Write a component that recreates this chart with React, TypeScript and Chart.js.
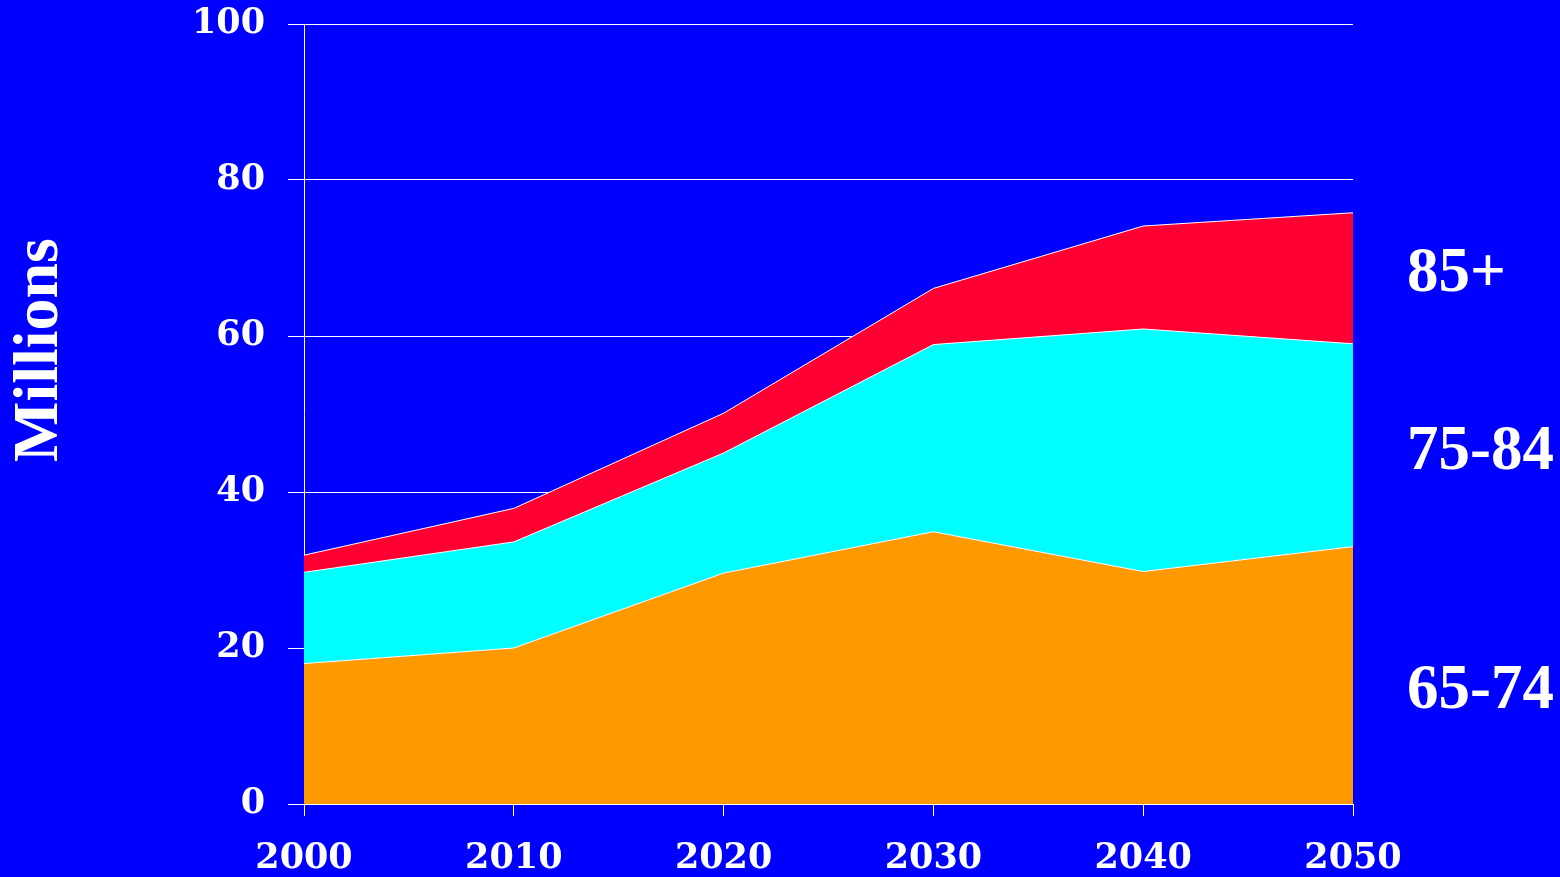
import React, { useEffect, useRef } from "react";
import { Chart, registerables } from "chart.js";

Chart.register(...registerables);

const years = ["2000", "2010", "2020", "2030", "2040", "2050"];
const age65to74 = [18, 20, 29.6, 34.9, 29.8, 33];
const age75to84 = [11.7, 13.6, 15.4, 24, 31.1, 26];
const age85plus = [2.2, 4.3, 5.1, 7.2, 13.2, 16.8];
const yTicks = [0, 20, 40, 60, 80, 100];
const sideLabels = ["85+", "75-84", "65-74"];
const axisTitle = "Millions";

const BLUE = "#0000FF";
const WHITE = "#FFFFFF";
const tickFont = { family: "'DejaVu Serif', serif", size: 35, weight: "bold" as const };

const textPlugin = {
  id: "sideText",
  afterDraw(chart: any) {
    const ctx = chart.ctx;
    ctx.save();
    ctx.fillStyle = WHITE;
    ctx.font = "bold 63px 'Liberation Serif', serif";
    ctx.textAlign = "left";
    ctx.textBaseline = "middle";
    const ys = [275, 453, 692];
    sideLabels.forEach((t, i) => ctx.fillText(t, 1407, ys[i]));
    ctx.translate(40, 350);
    ctx.rotate(-Math.PI / 2);
    ctx.textAlign = "center";
    ctx.font = "bold 64px 'Liberation Serif', serif";
    ctx.fillText(axisTitle, 0, 0);
    ctx.restore();
  },
};

export default function App() {
  const ref = useRef<HTMLCanvasElement>(null);
  useEffect(() => {
    if (!ref.current) return;
    const chart = new Chart(ref.current, {
      type: "line",
      data: {
        labels: years,
        datasets: [
          {
            label: "65-74",
            data: age65to74,
            backgroundColor: "#FF9900",
            borderColor: WHITE,
            borderWidth: 1,
            pointRadius: 0,
            fill: "origin",
            tension: 0,
          },
          {
            label: "75-84",
            data: age75to84,
            backgroundColor: "#00FFFF",
            borderColor: WHITE,
            borderWidth: 1,
            pointRadius: 0,
            fill: "-1",
            tension: 0,
          },
          {
            label: "85+",
            data: age85plus,
            backgroundColor: "#FF0033",
            borderColor: WHITE,
            borderWidth: 1,
            pointRadius: 0,
            fill: "-1",
            tension: 0,
          },
        ],
      },
      options: {
        responsive: false,
        animation: false,
        layout: { padding: { top: 24, right: 207, left: 0, bottom: 0 } },
        plugins: { legend: { display: false }, tooltip: { enabled: false } },
        scales: {
          x: {
            offset: false,
            grid: {
              drawOnChartArea: false,
              drawTicks: true,
              tickLength: 12,
              color: WHITE,
              lineWidth: 1,
            },
            border: { color: WHITE, width: 1 },
            ticks: { color: WHITE, font: tickFont, padding: 22, maxRotation: 0, autoSkip: false },
            afterFit(scale: any) {
              scale.height = 73;
              scale.paddingLeft = 0;
              scale.paddingRight = 0;
            },
          },
          y: {
            stacked: true,
            min: 0,
            max: 100,
            afterBuildTicks(scale: any) {
              scale.ticks = yTicks.map((v) => ({ value: v }));
            },
            grid: {
              color: WHITE,
              lineWidth: 1,
              tickLength: 16,
              drawTicks: true,
            },
            border: { color: WHITE, width: 1 },
            ticks: { color: WHITE, font: tickFont, padding: 23 },
            afterFit(scale: any) {
              scale.width = 304;
              scale.paddingTop = 0;
              scale.paddingBottom = 0;
            },
          },
        },
      },
      plugins: [textPlugin],
    });
    return () => chart.destroy();
  }, []);
  return (
    <div
      style={{
        position: "absolute",
        left: 0,
        top: 0,
        width: 1560,
        height: 877,
        background: BLUE,
      }}
    >
      <canvas ref={ref} width={1560} height={877} style={{ display: "block" }} />
    </div>
  );
}
